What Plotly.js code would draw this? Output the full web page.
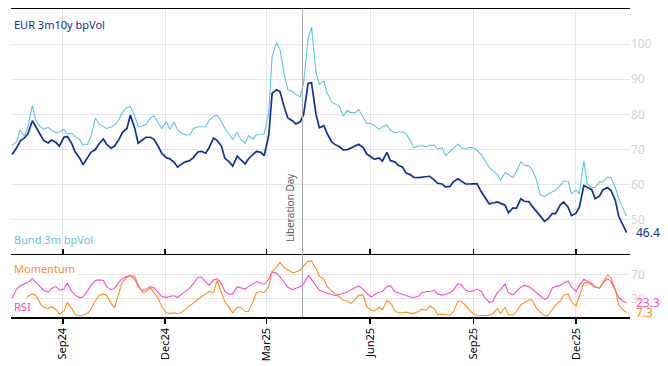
<!DOCTYPE html>
<html>
<head>
<meta charset="utf-8">
<script src="https://cdn.plot.ly/plotly-3.0.1.min.js"></script>
<style>html,body{margin:0;padding:0;background:#fff}#chart{width:668px;height:366px}</style>
</head>
<body>
<div id="chart"></div>
<script>
const dates = ['2024-07-18','2024-07-22','2024-07-25','2024-07-29','2024-08-01','2024-08-05','2024-08-08','2024-08-12','2024-08-15','2024-08-19','2024-08-22','2024-08-26','2024-08-29','2024-09-02','2024-09-05','2024-09-09','2024-09-12','2024-09-16','2024-09-19','2024-09-23','2024-09-26','2024-09-30','2024-10-03','2024-10-07','2024-10-10','2024-10-14','2024-10-17','2024-10-21','2024-10-24','2024-10-28','2024-10-31','2024-11-04','2024-11-07','2024-11-11','2024-11-14','2024-11-18','2024-11-21','2024-11-25','2024-11-28','2024-12-02','2024-12-05','2024-12-09','2024-12-12','2024-12-16','2024-12-19','2024-12-23','2024-12-26','2024-12-30','2025-01-02','2025-01-06','2025-01-09','2025-01-13','2025-01-16','2025-01-20','2025-01-23','2025-01-27','2025-01-30','2025-02-03','2025-02-06','2025-02-10','2025-02-13','2025-02-17','2025-02-20','2025-02-24','2025-02-27','2025-03-03','2025-03-06','2025-03-10','2025-03-13','2025-03-17','2025-03-20','2025-03-24','2025-03-27','2025-03-31','2025-04-03','2025-04-07','2025-04-10','2025-04-14','2025-04-17','2025-04-21','2025-04-24','2025-04-28','2025-05-01','2025-05-05','2025-05-08','2025-05-12','2025-05-15','2025-05-19','2025-05-22','2025-05-26','2025-05-29','2025-06-02','2025-06-05','2025-06-09','2025-06-12','2025-06-16','2025-06-19','2025-06-23','2025-06-26','2025-06-30','2025-07-03','2025-07-07','2025-07-10','2025-07-14','2025-07-17','2025-07-21','2025-07-24','2025-07-28','2025-07-31','2025-08-04','2025-08-07','2025-08-11','2025-08-14','2025-08-18','2025-08-21','2025-08-25','2025-08-28','2025-09-01','2025-09-04','2025-09-08','2025-09-11','2025-09-15','2025-09-18','2025-09-22','2025-09-25','2025-09-29','2025-10-02','2025-10-06','2025-10-09','2025-10-13','2025-10-16','2025-10-20','2025-10-23','2025-10-27','2025-10-30','2025-11-03','2025-11-06','2025-11-10','2025-11-13','2025-11-17','2025-11-20','2025-11-24','2025-11-27','2025-12-01','2025-12-04','2025-12-08','2025-12-11','2025-12-15','2025-12-18','2025-12-22','2025-12-25','2025-12-29','2026-01-01','2026-01-05','2026-01-08','2026-01-12','2026-01-15'];

const eurVol = [68.6,70.5,72.4,73.3,74.5,78.2,76.5,74.1,72.6,71.9,72.7,72.0,71.0,73.5,73.7,71.7,69.3,67.6,65.7,67.7,69.2,70.0,71.5,73.0,71.5,70.4,71.0,72.9,74.9,76.0,79.8,76.0,71.8,72.8,73.5,73.5,72.9,70.8,68.9,67.7,67.4,66.4,65.0,66.0,66.5,66.9,67.7,69.3,69.5,69.0,70.5,73.3,72.6,71.0,67.5,66.5,65.3,68.1,67.2,65.9,67.4,68.7,69.5,69.2,68.3,74.0,86.0,87.0,86.5,81.8,79.0,78.2,77.3,77.9,80.0,88.8,89.0,80.0,76.2,76.8,74.5,72.2,71.4,70.8,69.9,70.0,70.5,71.2,71.5,70.5,68.8,67.9,67.2,67.6,66.7,69.2,66.9,66.5,65.5,65.0,63.3,62.8,62.1,62.0,62.1,62.1,62.4,61.4,60.4,60.2,59.4,59.5,60.8,61.7,61.0,60.2,60.2,60.2,60.3,57.9,56.5,54.5,54.8,55.1,54.7,54.2,52.0,53.4,53.3,56.0,55.3,55.2,53.9,52.2,51.2,49.6,50.2,51.8,51.8,54.2,55.1,53.6,51.2,51.9,53.6,59.8,59.3,58.6,56.0,56.8,58.6,59.2,58.4,55.5,51.0,48.5,46.4];

const bundVol = [71.1,72.3,75.5,73.8,76.5,82.5,78.4,76.5,75.8,76.3,75.5,74.8,75.0,75.8,74.5,74.6,73.6,72.9,71.2,71.5,73.8,79.0,77.3,76.6,76.0,76.4,77.0,78.6,80.6,82.0,82.3,79.5,76.5,76.8,77.2,79.0,79.6,77.5,76.0,78.0,75.7,77.8,75.6,74.6,74.2,74.2,76.0,76.5,76.5,76.5,78.3,79.5,79.8,78.0,76.0,74.3,72.9,75.0,73.0,71.8,74.0,73.0,74.2,74.3,74.5,80.5,96.5,100.5,98.5,91.0,87.0,86.5,85.7,85.0,89.0,101.5,104.8,92.0,88.6,89.5,86.0,83.5,82.9,82.3,79.5,81.2,80.5,80.5,81.4,79.3,77.4,77.4,76.6,75.8,76.5,77.0,75.5,74.8,75.0,75.0,74.5,72.5,70.5,71.0,71.1,70.8,71.2,71.2,70.2,70.5,68.3,69.3,70.3,71.6,70.5,70.1,70.6,70.5,69.8,68.5,67.0,64.9,64.0,62.9,61.3,63.5,62.9,62.0,63.6,66.5,65.6,65.3,64.4,61.3,57.2,56.6,57.3,58.0,58.5,59.8,61.0,61.0,57.4,58.5,57.4,66.8,60.3,59.2,59.2,60.8,60.8,62.2,62.0,59.2,56.0,53.2,51.0];

const momentum = [3,7,14,26,34,38,36,22,16,14,17,12,5,10,24,14,4,2,3,6,12,27,35,38,36,22,15,40,58,65,68,67,53,40,42,48,41,30,17,7,6,7,5,8,13,19,22,29,33,38,42,40,60,40,25,15,7,16,16,9,9,25,40,42,40,50,75,82,90,81,78,73,74,77,84,92,92,80,67,62,50,43,38,33,28,26,22,30,36,36,17,11,10,16,12,27,24,10,7,7,8,6,6,9,13,11,18,14,4,5,4,3,8,26,26,19,12,5,3,2,2,3,5,14,6,16,4,3,9,20,24,28,28,14,8,2,2,12,20,26,36,38,25,18,36,56,57,53,49,48,58,69,65,45,20,11,7.3];

const rsi = [31,46,51,54,57,63,57,49,44,41,47,50,44,46,56,42,36,32,33,43,52,60,61,60,50,45,47,58,63,67,68,62,50,43,46,50,48,39,34,32,34,35,32,38,42,48,55,65,66,58,52,61,63,55,42,37,38,50,48,46,50,55,58,56,54,62,74,72,66,56,49,45,47,50,55,68,62,52,44,41,39,37,35,37,39,41,45,49,51,46,39,33,36,41,42,50,52,42,40,37,35,33,32,34,40,42,42,44,38,36,37,40,44,55,53,44,42,43,46,42,32,24,25,40,45,54,40,36,42,49,52,50,46,40,36,29,32,48,50,52,56,59,50,42,52,62,59,55,50,47,56,63,59,42,32,26,23.3];

const topTicks = [50, 60, 70, 80, 90, 100];
const bottomTicks = [30, 70];
const eventDate = '2025-04-02';
const eventLabel = 'Liberation Day';

const C_EUR = '#10309c', C_BUND = '#5cc6e2', C_MOM = '#ff8c1a', C_RSI = '#f84bd6';
const FONT = 'Noto Sans, Open Sans, sans-serif';
const xr = ['2024-07-17', '2026-01-18'];
const grid = '#e6e6e6';
const last = a => a[a.length - 1];

const traces = [
  {x: dates, y: bundVol, type: 'scatter', mode: 'lines', line: {color: C_BUND, width: 1.1}, xaxis: 'x', yaxis: 'y', hoverinfo: 'skip'},
  {x: dates, y: eurVol, type: 'scatter', mode: 'lines', line: {color: C_EUR, width: 1.7}, xaxis: 'x', yaxis: 'y', hoverinfo: 'skip'},
  {x: dates, y: rsi, type: 'scatter', mode: 'lines', line: {color: C_RSI, width: 1.1}, xaxis: 'x2', yaxis: 'y2', hoverinfo: 'skip'},
  {x: dates, y: momentum, type: 'scatter', mode: 'lines', line: {color: C_MOM, width: 1.1}, xaxis: 'x2', yaxis: 'y2', hoverinfo: 'skip'}
];

const split = 62 / 308;

const layout = {
  width: 668, height: 366,
  margin: {l: 11, r: 38, t: 9, b: 49, pad: 0},
  paper_bgcolor: '#fff', plot_bgcolor: '#fff',
  showlegend: false,
  font: {family: FONT, size: 11, color: '#000'},
  xaxis: {
    type: 'date', range: xr, domain: [0, 1], anchor: 'y', side: 'top',
    showline: true, linecolor: '#000', linewidth: 1.5,
    ticks: '', showticklabels: false,
    showgrid: true, gridcolor: grid, gridwidth: 1, zeroline: false,
    tick0: '2024-09-01', dtick: 'M3'
  },
  xaxis2: {
    type: 'date', range: xr, domain: [0, 1], anchor: 'y2', matches: 'x',
    showline: true, linecolor: '#000', linewidth: 1.5, mirror: 'ticks',
    ticks: 'outside', ticklen: 5, tickwidth: 1.5, tickcolor: '#000',
    tickformat: '%b%y', tickangle: -90,
    tick0: '2024-09-01', dtick: 'M3',
    showgrid: true, gridcolor: grid, gridwidth: 1, zeroline: false,
    tickfont: {family: FONT, size: 11, color: '#000'}
  },
  yaxis: {
    domain: [split, 1], anchor: 'x', side: 'right', range: [40, 110],
    tickvals: topTicks, ticks: '', showline: false, zeroline: false,
    showgrid: true, gridcolor: grid, gridwidth: 1,
    tickfont: {family: FONT, size: 12, color: '#d2d2d2'}
  },
  yaxis2: {
    domain: [0, split], anchor: 'x2', side: 'right', range: [0, 102],
    tickvals: bottomTicks, ticks: '', showline: false, zeroline: false,
    showgrid: true, gridcolor: grid, gridwidth: 1,
    tickfont: {family: FONT, size: 12, color: '#d2d2d2'}
  },
  shapes: [
    {type: 'line', xref: 'x', yref: 'paper', x0: eventDate, x1: eventDate, y0: 0, y1: 1,
     line: {color: '#a8a8a8', width: 1}}
  ],
  annotations: [
    {xref: 'x', yref: 'y', x: eventDate, y: 43.2, text: eventLabel, textangle: -90,
     xanchor: 'right', yanchor: 'bottom', xshift: -3, showarrow: false,
     font: {family: FONT, size: 10, color: '#5a5a5a'}},
    {xref: 'paper', yref: 'y domain', x: 0, y: 0.935, text: 'EUR 3m10y bpVol', xanchor: 'left', yanchor: 'middle',
     xshift: 1, showarrow: false, font: {family: FONT, size: 11, color: C_EUR}},
    {xref: 'paper', yref: 'y domain', x: 0, y: 0.065, text: 'Bund 3m bpVol', xanchor: 'left', yanchor: 'middle',
     xshift: 1, showarrow: false, font: {family: FONT, size: 11, color: C_BUND}},
    {xref: 'paper', yref: 'y2 domain', x: 0, y: 0.785, text: 'Momentum', xanchor: 'left', yanchor: 'middle',
     xshift: 1, showarrow: false, bgcolor: 'rgba(255,255,255,0.75)', font: {family: FONT, size: 11, color: C_MOM}},
    {xref: 'paper', yref: 'y2 domain', x: 0, y: 0.177, text: 'RSI', xanchor: 'left', yanchor: 'middle',
     xshift: 1, showarrow: false, bgcolor: 'rgba(255,255,255,0.75)', font: {family: FONT, size: 11, color: C_RSI}},
    {xref: 'paper', yref: 'y', x: 1, y: last(eurVol), text: String(last(eurVol)), xanchor: 'left', yanchor: 'middle',
     xshift: 4, showarrow: false, font: {family: FONT, size: 12, color: C_EUR}},
    {xref: 'paper', yref: 'y2', x: 1, y: last(rsi), text: String(last(rsi)), xanchor: 'left', yanchor: 'middle',
     xshift: 4, showarrow: false, font: {family: FONT, size: 12, color: C_RSI}},
    {xref: 'paper', yref: 'y2', x: 1, y: last(momentum), text: String(last(momentum)), xanchor: 'left', yanchor: 'middle',
     xshift: 4, showarrow: false, font: {family: FONT, size: 12, color: C_MOM}}
  ]
};

Plotly.newPlot('chart', traces, layout, {displayModeBar: false, staticPlot: true});
</script>
</body>
</html>
